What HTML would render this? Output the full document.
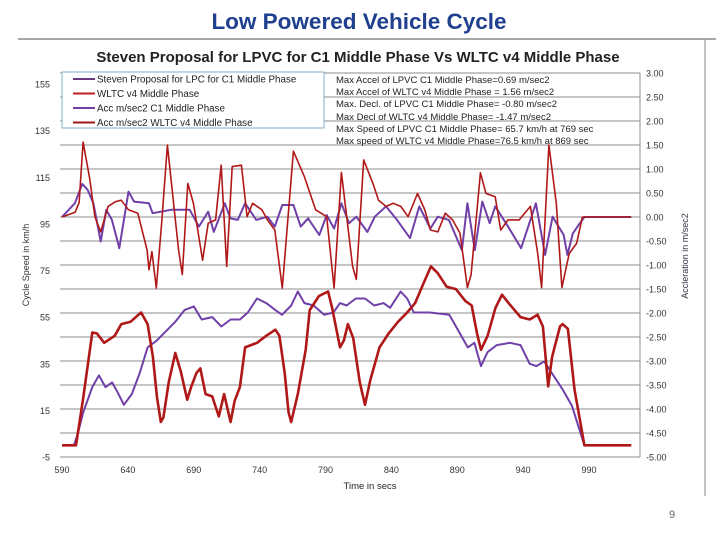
<!DOCTYPE html>
<html><head><meta charset="utf-8">
<style>
html,body{margin:0;padding:0;background:#fff;}
body{width:720px;height:540px;overflow:hidden;font-family:"Liberation Sans",sans-serif;}
svg text{font-family:"Liberation Sans",sans-serif;}
</style></head>
<body>
<svg id="chart" width="720" height="540" viewBox="0 0 720 540">
<text x="359" y="29" text-anchor="middle" font-size="22.5" font-weight="bold" fill="#1f3f8f">Low Powered Vehicle Cycle</text>
<line x1="18" y1="39" x2="716" y2="39" stroke="#8a8a8a" stroke-width="1.5"/>
<line x1="705" y1="40" x2="705" y2="496" stroke="#888" stroke-width="1"/>
<text x="358" y="62" text-anchor="middle" font-size="15" font-weight="bold" fill="#222">Steven Proposal for LPVC for C1 Middle Phase Vs WLTC v4  Middle Phase</text>
<g id="grid"></g>
<g id="axes"></g>
<g id="series"></g>
<rect x="62" y="72" width="262" height="56" fill="#fff" stroke="#7fb0c8" stroke-width="1"/>
<g id="legend" font-size="9.8" fill="#222"></g>
<g font-size="9.5" fill="#222">
<text x="336" y="83">Max Accel  of LPVC C1 Middle Phase=0.69 m/sec2</text>
<text x="336" y="95">Max Accel of WLTC v4 Middle Phase =  1.56 m/sec2</text>
<text x="336" y="107">Max. Decl. of LPVC C1 Middle Phase= -0.80 m/sec2</text>
<text x="336" y="120">Max Decl of WLTC v4 Middle Phase= -1.47 m/sec2</text>
<text x="336" y="132">Max Speed of LPVC C1 Middle Phase= 65.7 km/h  at 769 sec</text>
<text x="336" y="144">Max speed of WLTC v4 Middle Phase=76.5 km/h at 869 sec</text>
</g>
<text transform="translate(29,265) rotate(-90)" text-anchor="middle" font-size="9" fill="#333">Cycle Speed in km/h</text>
<text transform="translate(688,256) rotate(-90)" text-anchor="middle" font-size="9" fill="#334">Accleration in m/sec2</text>
<text x="370" y="489" text-anchor="middle" font-size="9.5" fill="#222">Time in secs</text>
<text x="672" y="518" text-anchor="middle" font-size="11" fill="#666">9</text>
</svg>
<script>
const xTicks=[590,640,690,740,790,840,890,940,990];
const yTicks=[-5,15,35,55,75,95,115,135,155];
const y2Ticks=[-5,-4.5,-4,-3.5,-3,-2.5,-2,-1.5,-1,-0.5,0,0.5,1,1.5,2,2.5,3];
const seriesNames=["Steven Proposal for LPC for C1 Middle Phase","WLTC v4 Middle Phase","Acc m/sec2 C1 Middle Phase","Acc m/sec2 WLTC v4 Middle Phase"];
const wltcT=[590,600.6,606,613,616.5,622,630,635,642,648,650,655,659,662,665,667,671,676,680,685,688,692,695,699,704,709,713,718,721,725,729,738,745,752,755,759,762,764,769,775,778,785,792,795,801,804,807,811,816,820,824,831,838,845,852,858,864,870,875,882,889,896,901,905,908,913,919,924,929,938,945,951,955,959,962,968,970,974,979,986.5,1022];
const wltcV=[0,0,20,48.4,48,44,47,52,53,56,57,52,38,21,10,12,27,39.6,32,19.6,25,31,33,22,21,12.4,22,10,19,25,42,44,47,49.6,47,31,14,10,22,41,58,64,66,59,42,45,52,46,27,17.4,28,42,48,53,57,61,69,76.7,74,68,67,62,60,48,41,47,59,64.6,61,55,54,56,51,25.3,38,51,52,50,24,0,0];
const lpvcT=[590,599,602,606,613,618,623,628,632,637,643,649,655,662,669,676,683,690,696,704,711,718,725,731,738,745,752,757,764,769,774,781,789,796,801,806,813,820,827,834,839,847,852,857,869,884,891,898,903,908,913,920,930,938,945,950,956,963,970,977,986.5,1022];
const lpvcV=[0,0,5,14,25,30,25,27,23,17.4,22,31,42,45,49,53,58,59.6,54,55,51,54,54,57,63,61,58,56,60,66,61,60,56,57,61,60,63,63,60,61,59,66,63,57,57,56,49,42,44,34,40,43,44,43,35,34,36,30,24,17,0,0];
const accCT=[590,599.7,605.4,609.6,613.8,619.4,623.6,627.9,633.5,640.5,644.7,656,658.8,672.8,686.9,693.9,701,705.2,713.6,717.8,723.4,729,737.5,745.9,751.5,757.2,765.6,771.2,776.8,785.3,790.9,796.5,802.1,807.8,813.4,821.8,827.4,835.9,844.3,854.1,861.2,869.6,875.2,883.7,893.5,897.7,903.3,909,914.6,918.8,928.6,938.5,949.7,956.7,962.4,970.8,973.6,977.8,982,986.5,1022];
const accCV=[0,0.285,0.69,0.56,0.285,-0.51,0.15,-0.06,-0.65,0.53,0.32,0.285,0.08,0.15,0.15,-0.2,0.11,-0.31,0.285,-0.03,-0.06,0.285,-0.06,0.006,-0.2,0.25,0.25,-0.2,-0.03,-0.375,0.04,-0.24,0.285,-0.13,0.006,-0.31,0.006,0.22,-0.06,-0.44,0.22,-0.24,0.006,-0.06,-0.69,0.285,-0.69,0.32,-0.13,0.22,-0.2,-0.65,0.285,-0.79,0.006,-0.375,-0.79,-0.34,-0.17,0,0];
const accWT=[590,600,603,606,611,615,619.4,625,630.7,634.9,640.5,647.5,654.6,656,658.2,661.6,665.8,670,672.8,678.5,681.3,685.5,689.7,696.7,701,706.6,710.8,715,719.2,726.2,730.5,734.7,741.7,745.9,751.5,757.2,765.6,774,782.5,790.9,796.5,802.1,810.6,813.4,819,826,830.2,835.9,841.5,847.1,852.7,859.8,865.4,869.6,875.2,880.9,886.5,892.1,897.7,900.5,907.6,911.8,918.8,923,928.6,937,945.5,951.1,954,959.6,965.2,969.4,975,980.6,985,1022];
const accWV=[0,0.1,0.3,1.56,0.8,0.006,-0.31,0.22,0.32,0.35,0.15,0.08,-0.69,-1.1,-0.72,-1.48,-0.06,1.5,0.77,-0.69,-1.2,0.7,0.285,-0.9,-0.13,-0.06,1.08,-1.03,1.05,1.08,0.006,0.285,0.15,-0.06,-0.27,-1.48,1.37,0.84,0.15,0.006,-1.48,0.93,-1.03,-1.3,1.19,0.7,0.35,0.22,0.285,0.22,0.006,0.49,0.15,-0.27,-0.31,0.08,-0.06,-0.34,-1.47,-1.2,0.92,0.49,0.42,-0.27,-0.06,-0.06,0.22,-0.76,-1.47,1.5,0.285,-1.47,-0.76,-0.55,0,0];

const NS="http://www.w3.org/2000/svg";
const X0=62,XS=1.3175;
function xs(t){return X0+(t-590)*XS;}
function ys(v){return 457-(v+5)*(373/160);}
function y2(a){return 457-(a+5)*48;}
function mk(tag,parent){const e=document.createElementNS(NS,tag);parent.appendChild(e);return e;}
const grid=document.getElementById('grid'),axes=document.getElementById('axes'),ser=document.getElementById('series'),leg=document.getElementById('legend');
y2Ticks.forEach(a=>{
  const l=mk('line',grid);
  
  
  l.setAttribute('x1',60);l.setAttribute('x2',640);l.setAttribute('y1',y2(a));l.setAttribute('y2',y2(a));
  l.setAttribute('stroke','#8c8c8c');l.setAttribute('stroke-width','1');
  const t=mk('text',axes);
  
  
  t.setAttribute('x',646);t.setAttribute('y',y2(a)+3.5);t.setAttribute('font-size','9');t.setAttribute('fill','#333');
  t.textContent=a.toFixed(2);
});
const ax=mk('line',axes);


ax.setAttribute('x1',640);ax.setAttribute('x2',640);ax.setAttribute('y1',y2(3));ax.setAttribute('y2',y2(-5));ax.setAttribute('stroke','#8c8c8c');
yTicks.forEach(v=>{
  const t=mk('text',axes);
  
  
  t.setAttribute('x',50);t.setAttribute('y',ys(v)+3.5);t.setAttribute('font-size','9');t.setAttribute('fill','#333');t.setAttribute('text-anchor','end');
  t.textContent=v;
});
xTicks.forEach(v=>{
  const t=mk('text',axes);
  
  
  t.setAttribute('x',xs(v));t.setAttribute('y',473);t.setAttribute('font-size','9');t.setAttribute('fill','#333');t.setAttribute('text-anchor','middle');
  t.textContent=v;
});
function line(T,V,f,col,w,name){
  const p=mk('polyline',ser);
  
  
  p.setAttribute('points',T.map((t,i)=>xs(t).toFixed(1)+','+f(V[i]).toFixed(1)).join(' '));
  p.setAttribute('fill','none');p.setAttribute('stroke',col);p.setAttribute('stroke-width',w);p.setAttribute('stroke-linejoin','round');
}
line(accCT,accCV,y2,'#7040a8',2,'acc-c1-line');
line(accWT,accWV,y2,'#b01818',1.6,'acc-wltc-line');
line(lpvcT,lpvcV,ys,'#7040a8',2,'lpvc-speed-line');
line(wltcT,wltcV,ys,'#b01818',2.6,'wltc-speed-line');
const legCols=['#6a3a80','#c02020','#7040a8','#a01818'];
seriesNames.forEach((n,i)=>{
  const y=79+i*14.5;
  const l=mk('line',leg);
  
  
  l.setAttribute('x1',73);l.setAttribute('x2',95);l.setAttribute('y1',y);l.setAttribute('y2',y);l.setAttribute('stroke',legCols[i]);l.setAttribute('stroke-width',2);
  const t=mk('text',leg);
  
  
  t.setAttribute('x',97);t.setAttribute('y',y+3.5);
  t.textContent=n;
});
</script>
</body></html>
